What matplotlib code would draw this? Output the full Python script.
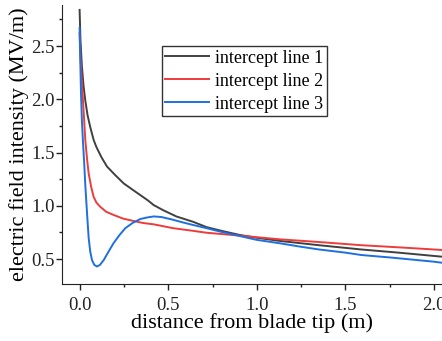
import numpy as np
import matplotlib.pyplot as plt
from matplotlib.ticker import MultipleLocator

# values
x1 = [0.0, 0.005, 0.013, 0.022, 0.032, 0.045, 0.06, 0.079, 0.094, 0.122, 0.154, 0.2, 0.249,
      0.3, 0.343, 0.386, 0.418, 0.47, 0.546, 0.64, 0.716, 0.8, 0.904, 1.0, 1.13, 1.35, 1.588,
      1.8, 2.045, 2.1]
y1 = [2.84, 2.55, 2.31, 2.13, 1.99, 1.85, 1.74, 1.62, 1.555, 1.46, 1.37, 1.29, 1.21,
      1.15, 1.10, 1.05, 1.007, 0.96, 0.90, 0.85, 0.80, 0.765, 0.726, 0.70, 0.67, 0.63, 0.59,
      0.56, 0.522, 0.515]

x2 = [0.0, 0.005, 0.013, 0.023, 0.032, 0.042, 0.051, 0.065, 0.079, 0.095, 0.117, 0.15, 0.192,
      0.245, 0.305, 0.36, 0.418, 0.527, 0.64, 0.716, 0.8, 0.904, 1.0, 1.13, 1.35, 1.588, 1.8,
      2.045, 2.1]
y2 = [2.62, 2.4, 2.15, 1.88, 1.62, 1.44, 1.305, 1.18, 1.085, 1.03, 0.99, 0.944, 0.914,
      0.88, 0.857, 0.838, 0.826, 0.79, 0.765, 0.747, 0.735, 0.72, 0.705, 0.685, 0.66, 0.63, 0.61,
      0.585, 0.58]

x3 = [0.0, 0.004, 0.008, 0.013, 0.019, 0.026, 0.032, 0.042, 0.051, 0.06, 0.07, 0.083, 0.098,
      0.115, 0.136, 0.16, 0.192, 0.225, 0.258, 0.3, 0.343, 0.38, 0.418, 0.46, 0.518, 0.58,
      0.64, 0.716, 0.8, 0.904, 1.0, 1.13, 1.25, 1.35, 1.5, 1.588, 1.75, 2.0, 2.045, 2.1]
y3 = [2.67, 2.35, 2.05, 1.8, 1.6, 1.4, 1.2, 0.93, 0.70, 0.57, 0.49, 0.445, 0.43,
      0.445, 0.49, 0.56, 0.65, 0.725, 0.79, 0.84, 0.876, 0.89, 0.90, 0.895, 0.873, 0.845,
      0.82, 0.79, 0.755, 0.716, 0.68, 0.648, 0.615, 0.59, 0.56, 0.538, 0.515, 0.475, 0.465, 0.46]

labels = ['intercept line 1', 'intercept line 2', 'intercept line 3']
colors = ['#404040', '#ee3b3b', '#1e6fe0']

plt.rcParams['font.family'] = ['Liberation Serif', 'DejaVu Serif']

fig = plt.figure(figsize=(4.42, 3.41), dpi=100)
ax = fig.add_axes([0.140, 0.167, 0.860, 0.818])

for xs, ys, lab, col in zip([x1, x2, x3], [y1, y2, y3], labels, colors):
    ax.plot(xs, ys, color=col, lw=1.4, label=lab)

ax.set_xlim(-0.1, 2.045)
ax.set_ylim(0.265, 2.885)
ax.xaxis.set_major_locator(MultipleLocator(0.5))
ax.xaxis.set_minor_locator(MultipleLocator(0.25))
ax.yaxis.set_major_locator(MultipleLocator(0.5))
ax.yaxis.set_minor_locator(MultipleLocator(0.25))
ax.tick_params(which='major', direction='out', length=4, width=1, labelsize=13.5, colors='#222222')
ax.tick_params(axis='y', which='major', pad=1)
ax.tick_params(axis='x', which='major', pad=5)
ax.tick_params(which='minor', direction='out', length=2.5, width=1, colors='#222222')
ax.spines['top'].set_visible(False)
ax.spines['right'].set_visible(False)
for s in ['left', 'bottom']:
    ax.spines[s].set_color('#222222')

ax.set_xlabel('distance from blade tip (m)', fontsize=16, labelpad=0)
ax.set_ylabel('electric field intensity (MV/m)', fontsize=16, labelpad=1.5)

leg = ax.legend(loc='upper left', bbox_to_anchor=(0.263, 0.853), fontsize=13,
                frameon=True, fancybox=False, edgecolor='black', handlelength=2.4,
                handletextpad=0.35, borderpad=0.2, labelspacing=0.33, borderaxespad=0)
leg.get_frame().set_linewidth(1)

fig.savefig('out.png', dpi=100)
